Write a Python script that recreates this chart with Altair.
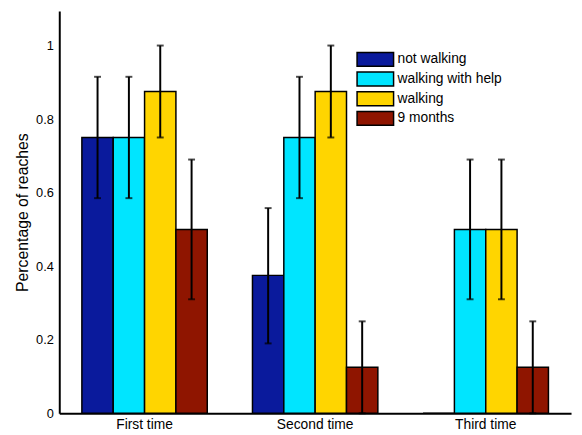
import altair as alt
import pandas as pd

groups = ["First time", "Second time", "Third time"]
series = ["not walking", "walking with help", "walking", "9 months"]
colors = ["#0A1A9C", "#00E5FF", "#FFD500", "#8F1500"]

values = {
    "not walking": [0.75, 0.375, 0.0],
    "walking with help": [0.75, 0.75, 0.5],
    "walking": [0.875, 0.875, 0.5],
    "9 months": [0.5, 0.125, 0.125],
}
err_lo = {
    "not walking": [0.585, 0.19, None],
    "walking with help": [0.585, 0.585, 0.31],
    "walking": [0.75, 0.75, 0.31],
    "9 months": [0.31, 0.0, 0.0],
}
err_hi = {
    "not walking": [0.915, 0.558, None],
    "walking with help": [0.915, 0.915, 0.69],
    "walking": [1.0, 1.0, 0.69],
    "9 months": [0.69, 0.25, 0.25],
}

rows = []
for s in series:
    for i, g in enumerate(groups):
        rows.append({"group": g, "series": s, "value": values[s][i],
                     "lo": err_lo[s][i], "hi": err_hi[s][i]})
df = pd.DataFrame(rows)
df_err = df.dropna(subset=["lo", "hi"])

FONT = "Liberation Sans"

x_enc = alt.X("group:N", sort=groups,
              scale=alt.Scale(paddingInner=0.265, paddingOuter=0.1325),
              axis=alt.Axis(title=None, labelAngle=0, ticks=False, labelPadding=4,
                            labelFontSize=14, domainWidth=2, domainColor="black"))
xo_enc = alt.XOffset("series:N", sort=series, scale=alt.Scale(paddingInner=0, paddingOuter=0))
y_scale = alt.Scale(domain=[0, 1.094], nice=False, zero=True)

bars = alt.Chart(df).mark_bar(stroke="black", strokeWidth=1.5, opacity=1).encode(
    x=x_enc,
    xOffset=xo_enc,
    y=alt.Y("value:Q", scale=y_scale,
            axis=alt.Axis(title="Percentage of reaches", values=[0, 0.2, 0.4, 0.6, 0.8, 1.0],
                          format="~g", ticks=False, grid=False, labelPadding=6,
                          labelFontSize=13, titleFontSize=16, titleFontWeight="normal",
                          titlePadding=5, domainWidth=2, domainColor="black")),
    color=alt.Color("series:N", sort=series,
                    scale=alt.Scale(domain=series, range=colors),
                    legend=alt.Legend(title=None, orient="none", legendX=301, legendY=41,
                                      symbolType="M-1,-1H4.29V1H-1Z", symbolSize=196,
                                      symbolStrokeColor="black", symbolStrokeWidth=1.5,
                                      symbolOpacity=1, labelFontSize=14, labelOffset=26,
                                      rowPadding=0, padding=0, labelColor="black")),
)

rules = alt.Chart(df_err).mark_rule(color="black", strokeWidth=2).encode(
    x=alt.X("group:N", sort=groups),
    xOffset=alt.XOffset("series:N", sort=series),
    y=alt.Y("lo:Q", scale=y_scale),
    y2="hi:Q",
)
caps_lo = alt.Chart(df_err).mark_tick(color="black", thickness=2, size=7, orient="horizontal").encode(
    x=alt.X("group:N", sort=groups),
    xOffset=alt.XOffset("series:N", sort=series),
    y=alt.Y("lo:Q", scale=y_scale),
)
caps_hi = alt.Chart(df_err).mark_tick(color="black", thickness=2, size=7, orient="horizontal").encode(
    x=alt.X("group:N", sort=groups),
    xOffset=alt.XOffset("series:N", sort=series),
    y=alt.Y("hi:Q", scale=y_scale),
)

chart = alt.layer(bars, rules, caps_lo, caps_hi).properties(
    width=519, height=408,
    autosize=alt.AutoSizeParams(type="none"),
    padding={"left": 52, "top": 0, "right": 3, "bottom": 19},
).configure(font=FONT).configure_view(stroke=None).configure_axis(
    labelColor="black", titleColor="black", labelFont=FONT, titleFont=FONT
).configure_legend(labelFont=FONT)

chart.save("out.html", embed_options={"renderer": "svg", "actions": False})
